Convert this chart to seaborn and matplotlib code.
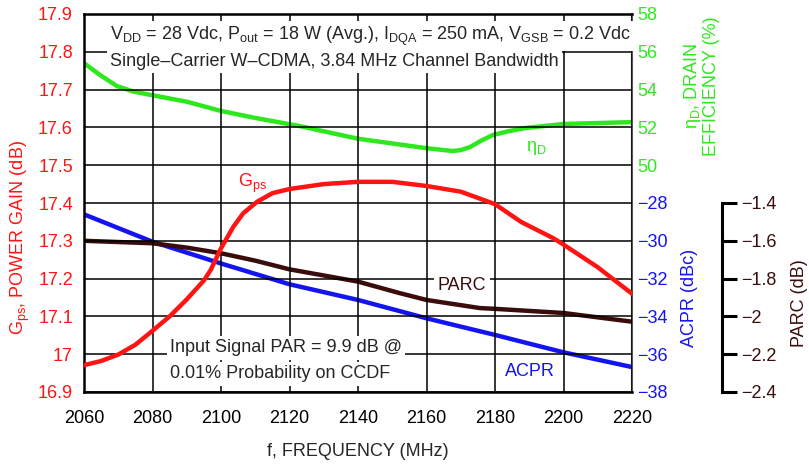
import matplotlib
matplotlib.use("Agg")
import matplotlib.pyplot as plt
import seaborn as sns
from matplotlib import font_manager

# ---------------- data ----------------
freq_gps = [2060, 2065, 2070, 2075, 2080, 2085, 2090, 2095, 2097, 2100, 2103.6, 2106.5,
            2110.5, 2115, 2120, 2130, 2140, 2150, 2160, 2170, 2180, 2187.6, 2197, 2200,
            2210, 2220]
gps = [16.971, 16.982, 16.999, 17.025, 17.062, 17.10, 17.145, 17.195, 17.223, 17.28,
       17.337, 17.373, 17.403, 17.426, 17.437, 17.45, 17.456, 17.456, 17.445, 17.43,
       17.397, 17.35, 17.307, 17.29, 17.23, 17.16]

freq_eta = [2060, 2064.7, 2069.6, 2074.3, 2080, 2090, 2100, 2110, 2123, 2140, 2160,
            2167.7, 2170, 2172.7, 2176, 2179.4, 2184, 2189, 2200, 2220]
eta = [55.4, 54.77, 54.19, 53.9, 53.7, 53.36, 52.87, 52.5, 52.07, 51.4, 50.9,
       50.75, 50.8, 50.96, 51.3, 51.6, 51.8, 51.97, 52.18, 52.28]

freq_acpr = [2060, 2080, 2100, 2120, 2140, 2160, 2180, 2200, 2220]
acpr = [-28.6, -30.05, -31.2, -32.3, -33.13, -34.1, -34.98, -35.9, -36.68]

freq_parc = [2060, 2080, 2090, 2100, 2110, 2120, 2140, 2152, 2160, 2175.6, 2180, 2200, 2220]
parc = [-1.60, -1.613, -1.636, -1.666, -1.705, -1.751, -1.816, -1.876, -1.913, -1.956,
        -1.96, -1.982, -2.028]

x_ticks = [2060, 2080, 2100, 2120, 2140, 2160, 2180, 2200, 2220]
gps_ticks = [16.9, 17, 17.1, 17.2, 17.3, 17.4, 17.5, 17.6, 17.7, 17.8, 17.9]
gps_ticklabels = ["16.9", "17", "17.1", "17.2", "17.3", "17.4", "17.5", "17.6", "17.7", "17.8", "17.9"]
eta_ticks = [50, 52, 54, 56, 58]
acpr_ticks = [-38, -36, -34, -32, -30, -28]
parc_ticks = [-2.4, -2.2, -2.0, -1.8, -1.6, -1.4]
parc_ticklabels = ["\u22122.4", "\u22122.2", "\u22122", "\u22121.8", "\u22121.6", "\u22121.4"]

RED = "#ff1414"
GREEN = "#2ee81e"
BLUE = "#1414f0"
BROWN = "#3a0c0c"

# ---------------- style ----------------
sns.set_theme(style="white")
names = {f.name for f in font_manager.fontManager.ttflist}
fams = [f for f in ["Liberation Sans Narrow", "Liberation Sans", "DejaVu Sans"] if f in names]
plt.rcParams["font.family"] = fams
plt.rcParams["mathtext.default"] = "regular"
plt.rcParams["axes.unicode_minus"] = True

fig = plt.figure(figsize=(8.09, 4.68), dpi=100)
L, R, B, T = 84 / 809, 632 / 809, (468 - 392) / 468, (468 - 14) / 468
ax = fig.add_axes([L, B, R - L, T - B])

FS = 13

# main axis (Gps)
sns.lineplot(x=freq_gps, y=gps, ax=ax, color=RED, lw=3.2, zorder=5)
ax.set_xlim(2060, 2220)
ax.set_ylim(16.9, 17.9)
ax.set_xticks(x_ticks)
ax.set_yticks(gps_ticks)
ax.set_yticklabels(gps_ticklabels)
ax.tick_params(axis="y", colors=RED, labelsize=FS, length=0, pad=8)
ax.tick_params(axis="x", colors="black", labelsize=FS, length=0, pad=13)
ax.grid(True, color="black", lw=1.1)
ax.set_axisbelow(True)
for s in ["left", "bottom", "top"]:
    ax.spines[s].set_color("black")
    ax.spines[s].set_linewidth(1.8)
ax.spines["right"].set_visible(False)
ax.set_xlabel("")
ax.set_ylabel("")

# eta axis
ax_eta = ax.twinx()
sns.lineplot(x=freq_eta, y=eta, ax=ax_eta, color=GREEN, lw=3.2)
ax_eta.set_ylim(38, 58)
ax_eta.set_yticks(eta_ticks)
ax_eta.tick_params(axis="y", colors=GREEN, labelsize=FS, length=0, pad=4)
ax_eta.spines["right"].set_color("#555555")
ax_eta.spines["right"].set_linewidth(1.5)
for s in ["left", "top", "bottom"]:
    ax_eta.spines[s].set_visible(False)
ax_eta.grid(False)
ax_eta.set_ylabel("")

# ACPR axis
ax_acpr = ax.twinx()
sns.lineplot(x=freq_acpr, y=acpr, ax=ax_acpr, color=BLUE, lw=3.2)
ax_acpr.set_ylim(-38, -18)
ax_acpr.set_yticks(acpr_ticks)
ax_acpr.tick_params(axis="y", colors=BLUE, labelsize=FS, length=0, pad=4)
for s in ax_acpr.spines.values():
    s.set_visible(False)
ax_acpr.grid(False)
ax_acpr.set_ylabel("")

# PARC axis
ax_parc = ax.twinx()
sns.lineplot(x=freq_parc, y=parc, ax=ax_parc, color=BROWN, lw=3.2)
ax_parc.set_ylim(-2.4, -0.4)
ax_parc.set_yticks(parc_ticks)
ax_parc.set_yticklabels(parc_ticklabels)
for s in ["left", "top", "bottom"]:
    ax_parc.spines[s].set_visible(False)
ax_parc.spines["right"].set_position(("axes", (722 - 84) / 548))
ax_parc.spines["right"].set_bounds(-2.4, -1.4)
ax_parc.spines["right"].set_linewidth(2.2)
ax_parc.spines["right"].set_color("black")
ax_parc.tick_params(axis="y", colors="black", labelcolor=BROWN, labelsize=FS,
                    length=11, width=2.2, direction="out", pad=3)
ax_parc.grid(False)
ax_parc.set_ylabel("")

# bring gps line on top
ax.set_zorder(ax_parc.get_zorder() + 1)
ax.patch.set_visible(False)
for a in (ax_eta, ax_acpr, ax_parc):
    a.patch.set_visible(False)

# ---------------- annotations ----------------
def px(x, y):
    return x / 809, 1 - y / 468

box = dict(facecolor="white", edgecolor="none", pad=2.5)
fig.text(*px(110, 36), r"V$_{DD}$ = 28 Vdc, P$_{out}$ = 18 W (Avg.), I$_{DQA}$ = 250 mA, V$_{GSB}$ = 0.2 Vdc",
         fontsize=FS, ha="left", va="center", bbox=box, zorder=20)
fig.text(*px(110, 61), "Single\u2013Carrier W\u2013CDMA, 3.84 MHz Channel Bandwidth",
         fontsize=FS, ha="left", va="center", bbox=box, zorder=20)
fig.text(*px(170, 348), "Input Signal PAR = 9.9 dB @",
         fontsize=FS, ha="left", va="center", bbox=box, zorder=20)
fig.text(*px(170, 374), "0.01% Probability on CCDF",
         fontsize=FS, ha="left", va="center", bbox=box, zorder=20)

fig.text(*px(253, 183), r"G$_{ps}$", color=RED, fontsize=FS, ha="center", va="center")
fig.text(*px(536, 148), "\u03b7$_{D}$", color=GREEN, fontsize=FS, ha="center", va="center")
fig.text(*px(462, 286), "PARC", color=BROWN, fontsize=FS, ha="center", va="center",
         bbox=box)
fig.text(*px(530, 372), "ACPR", color=BLUE, fontsize=FS, ha="center", va="center")

# axis labels
fig.text(*px(358, 452), "f, FREQUENCY (MHz)", fontsize=FS, ha="center", va="center")
fig.text(*px(20, 238), r"G$_{ps}$, POWER GAIN (dB)", color=RED, fontsize=FS,
         rotation=90, ha="center", va="center")
fig.text(*px(701, 86), "\u03b7$_{D}$, DRAIN\nEFFICIENCY (%)", color=GREEN, fontsize=FS,
         rotation=90, ha="center", va="center", multialignment="center", linespacing=1.0)
fig.text(*px(689, 298), "ACPR (dBc)", color=BLUE, fontsize=FS, rotation=90,
         ha="center", va="center")
fig.text(*px(799, 303), "PARC (dB)", color=BROWN, fontsize=FS, rotation=90,
         ha="center", va="center")

fig.savefig("out.png", dpi=100)
